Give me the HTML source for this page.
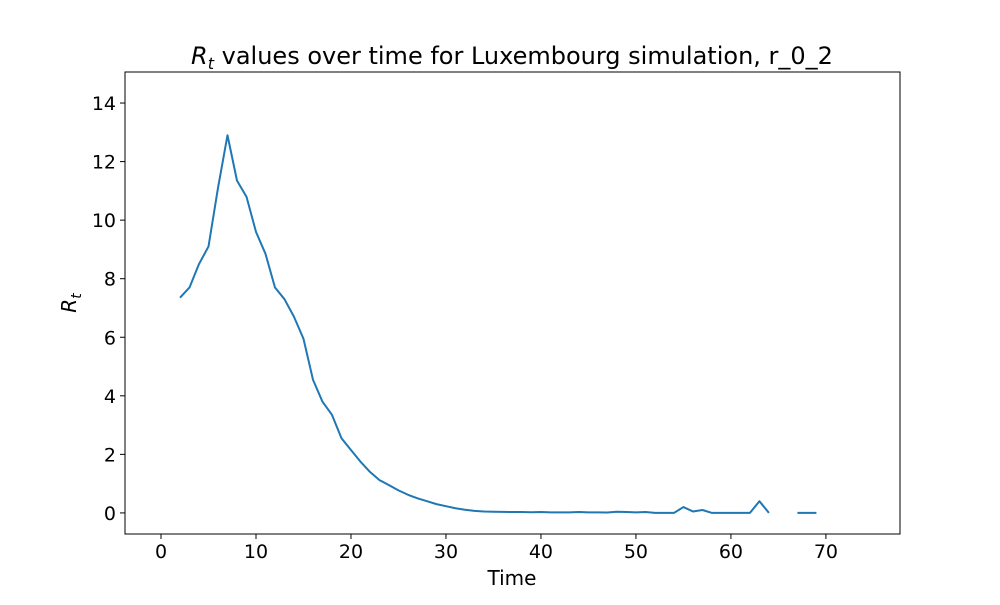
<!DOCTYPE html>
<html><head><meta charset="utf-8"><style>
body{margin:0;background:#fff}
svg text{font-family:"DejaVu Sans","Liberation Sans",sans-serif;fill:#000}
</style></head><body>
<svg id="chart" width="1000" height="600">
<rect width="1000" height="600" fill="#fff"/>
<text x="512" y="64" font-size="24" text-anchor="middle"><tspan font-style="italic">R</tspan><tspan font-style="italic" font-size="16" dy="5">t</tspan><tspan dy="-5"> values over time for Luxembourg simulation, r_0_2</tspan></text>
<g id="xticks"></g><g id="yticks"></g>
<path id="line" fill="none" stroke="#1f77b4" stroke-width="2" stroke-linejoin="round"/>
<rect x="125" y="72" width="775" height="462" fill="none" stroke="#000" stroke-width="1"/>
<text x="512" y="585" font-size="20" text-anchor="middle">Time</text>
<text transform="translate(76,303) rotate(-90)" font-size="20" text-anchor="middle"><tspan font-style="italic">R</tspan><tspan font-style="italic" font-size="14" dy="5">t</tspan></text>
</svg>
<script>
const times=[2,3,4,5,6,7,8,9,10,11,12,13,14,15,16,17,18,19,20,21,22,23,24,25,26,27,28,29,30,31,32,33,34,35,36,37,38,39,40,41,42,43,44,45,46,47,48,49,50,51,52,53,54,55,56,57,58,59,60,61,62,63,64,65,66,67,68,69];
const rtValues=[7.35,7.7,8.5,9.1,11.1,12.9,11.35,10.8,9.6,8.85,7.7,7.3,6.7,5.95,4.55,3.8,3.35,2.55,2.15,1.75,1.4,1.12,0.95,0.77,0.62,0.5,0.4,0.3,0.23,0.16,0.11,0.07,0.05,0.04,0.035,0.03,0.03,0.025,0.03,0.02,0.02,0.02,0.03,0.02,0.02,0.015,0.04,0.03,0.02,0.03,0.0,0.0,0.0,0.2,0.05,0.1,0.0,0.0,0.0,0.0,0.0,0.4,0.0,null,null,0.0,0.0,0.0];
const xTickLabels=[0,10,20,30,40,50,60,70];
const yTickLabels=[0,2,4,6,8,10,12,14];
const L=125,R=900,T=72,B=534,xmin=-3.79,xmax=77.8,ymin=-0.72,ymax=15.06;
const sx=v=>L+(v-xmin)/(xmax-xmin)*(R-L);
const sy=v=>B-(v-ymin)/(ymax-ymin)*(B-T);
const NS="http://www.w3.org/2000/svg";
let d="",pen=false;
times.forEach((t,i)=>{const v=rtValues[i];if(v===null){pen=false;return;}d+=(pen?"L":"M")+sx(t).toFixed(2)+","+sy(v).toFixed(2);pen=true;});
document.getElementById('line').setAttribute('d',d);
const xg=document.getElementById('xticks'),yg=document.getElementById('yticks');
xTickLabels.forEach(v=>{const x=sx(v);
const l=document.createElementNS(NS,'line');l.setAttribute('x1',x);l.setAttribute('x2',x);l.setAttribute('y1',B);l.setAttribute('y2',B+5);l.setAttribute('stroke','#000');


xg.appendChild(l);
const tx=document.createElementNS(NS,'text');tx.setAttribute('x',x);tx.setAttribute('y',B+24);tx.setAttribute('font-size','19');tx.setAttribute('text-anchor','middle');tx.textContent=v;


xg.appendChild(tx);});
yTickLabels.forEach(v=>{const y=sy(v);
const l=document.createElementNS(NS,'line');l.setAttribute('x1',L-5);l.setAttribute('x2',L);l.setAttribute('y1',y);l.setAttribute('y2',y);l.setAttribute('stroke','#000');


yg.appendChild(l);
const tx=document.createElementNS(NS,'text');tx.setAttribute('x',L-9);tx.setAttribute('y',y+7);tx.setAttribute('font-size','19');tx.setAttribute('text-anchor','end');tx.textContent=v;


yg.appendChild(tx);});
</script>
</body></html>
